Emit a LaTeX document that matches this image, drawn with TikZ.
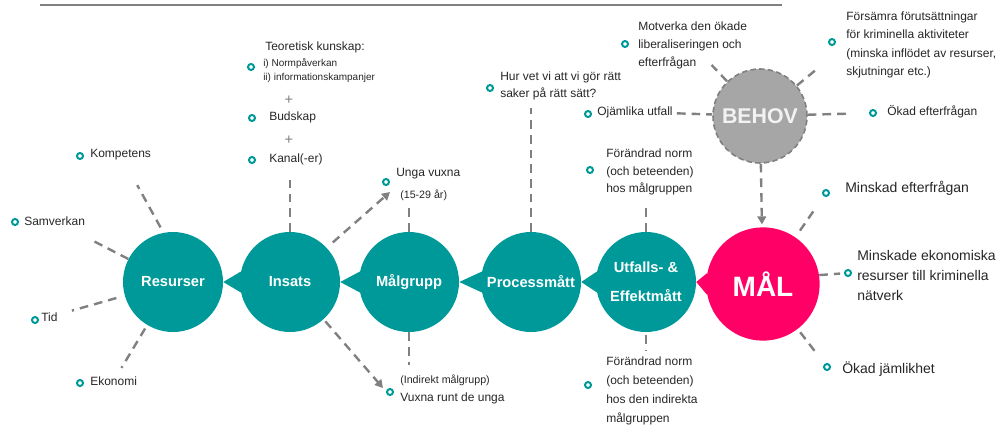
\documentclass[tikz,border=0pt]{standalone}
\usepackage{fontspec}
\setmainfont{Liberation Sans}
\usetikzlibrary{arrows.meta}

\definecolor{turkos}{RGB}{0,153,153}
\definecolor{rosa}{RGB}{255,0,102}
\definecolor{gra}{RGB}{166,166,166}
\definecolor{linje}{RGB}{128,128,128}
\definecolor{ljus}{RGB}{242,242,242}

\tikzset{
  steg/.style={circle, fill=turkos, minimum size=75pt, inner sep=0pt,
    text=white, align=center, font=\bfseries\fontsize{11}{13}\selectfont},
  streck/.style={draw=linje, line width=1.8pt, dash pattern=on 6.5pt off 4.5pt},
  pil/.style={streck, -{Triangle[length=6pt,width=6.5pt]}},
  prick/.style={circle, draw=turkos, fill=white, line width=1.5pt,
    minimum size=4.5pt, inner sep=0pt},
  txt/.style={anchor=west, inner sep=0pt, align=left, text=black!85,
    font=\fontsize{9}{13.5}\selectfont},
  liten/.style={txt, font=\fontsize{7.5}{10.5}\selectfont},
  stor/.style={txt, font=\fontsize{10.5}{15}\selectfont},
  plus/.style={text=linje, font=\fontsize{11}{12}\selectfont, inner sep=0pt},
}

\begin{document}
\begin{tikzpicture}[x=0.75pt, y=-0.75pt]
  \useasboundingbox (0,0) rectangle (1002,428);
  \draw[linje, line width=1pt] (40,5) -- (782,5);

  % kedjan
  \node[steg] (resurser) at (173,282) {Resurser};
  \node[steg] (insats)   at (290,282) {Insats};
  \node[steg] (malgrupp) at (409,282) {Målgrupp};
  \node[steg] (process)  at (531,282) {Processmått};
  \node[steg, font=\bfseries\fontsize{11}{22}\selectfont] (utfall) at (646,282) {Utfalls- \&\\Effektmått};
  \node[steg, fill=rosa, minimum size=85pt, font=\bfseries\fontsize{21}{24}\selectfont] (mal) at (763,284) {MÅL};
  \node[circle, fill=gra, draw=linje, line width=1.2pt, dash pattern=on 4pt off 2.5pt,
    minimum size=70.5pt, inner sep=0pt, text=ljus, font=\bfseries\fontsize{16}{18}\selectfont]
    (behov) at (760,116) {BEHOV};

  \fill[turkos] (resurser.east) -- (insats.168) -- (insats.192) -- cycle;
  \fill[turkos] (insats.east) -- (malgrupp.168) -- (malgrupp.192) -- cycle;
  \fill[turkos] (malgrupp.east) -- (process.168) -- (process.192) -- cycle;
  \fill[turkos] (process.east) -- (utfall.168) -- (utfall.192) -- cycle;
  \fill[rosa] (utfall.east) -- (mal.169) -- (mal.191) -- cycle;

  % resurser
  \node[txt] (kompetens) at (90,155) {Kompetens};
  \node[txt] (samverkan) at (24,221) {Samverkan};
  \node[txt] (tid) at (41,317) {Tid};
  \node[txt] (ekonomi) at (90,381) {Ekonomi};
  \node[prick] (b-kompetens) at (80,156) {};
  \node[prick] (b-samverkan) at (15,222) {};
  \node[prick] (b-tid) at (35,320) {};
  \node[prick] (b-ekonomi) at (80,383) {};
  \draw[streck, shorten <=4.5pt, shorten >=21pt] (resurser.101) -- (kompetens);
  \draw[streck, shorten >=24pt] (resurser) -- (samverkan);
  \draw[streck, shorten <=6.4pt, shorten >=11pt] (resurser) -- (tid);
  \draw[streck, shorten <=3pt, shorten >=7.4pt] (resurser) -- (ekonomi);

  % insats
  \node[txt] (teori) at (265,47) {Teoretisk kunskap:};
  \node[liten] (normer) at (263,71) {i) Normpåverkan\\ii) informationskampanjer};
  \node[prick] (b-teori) at (251,67) {};
  \node[plus] (plus1) at (289,100) {+};
  \node[txt] (budskap) at (269,117) {Budskap};
  \node[prick] (b-budskap) at (252,118) {};
  \node[plus] (plus2) at (289,140) {+};
  \node[txt] (kanal) at (269,159) {Kanal(-er)};
  \node[prick] (b-kanal) at (252,160) {};
  \draw[streck, shorten >=11pt] (insats.north) -- (insats.north |- kanal.south);

  % malgrupp
  \node[txt] (unga) at (396,174) {Unga vuxna};
  \node[txt, font=\fontsize{8}{10}\selectfont] (alder) at (400,195) {(15-29 år)};
  \node[prick] (b-unga) at (386,182) {};
  \node[txt, font=\fontsize{8}{10}\selectfont] (indirekt) at (400,380) {(Indirekt målgrupp)};
  \node[txt] (vuxna) at (400,398) {Vuxna runt de unga};
  \node[prick] (b-vuxna) at (390,392) {};
  \coordinate (uv-spets) at (390,192);
  \coordinate (vr-spets) at (383,388);
  \draw[pil, shorten <=6pt] (insats.43) -- (uv-spets);
  \draw[pil, shorten <=2pt] (insats.-48) -- (vr-spets);
  \draw[streck, shorten >=3pt] (malgrupp.north) -- (malgrupp.north |- alder.south);
  \draw[streck, shorten >=7pt] (malgrupp.south) -- (malgrupp.south |- indirekt.north);

  % processmatt
  \node[txt, font=\fontsize{9}{12.75}\selectfont] (hurvet) at (500,86) {Hur vet vi att vi gör rätt\\saker på rätt sätt?};
  \node[prick] (b-hurvet) at (490,88) {};
  \draw[streck, shorten >=6pt] (process.north) -- (process.north |- hurvet.south);

  % utfalls- och effektmatt
  \node[txt, font=\fontsize{9}{13}\selectfont] (norm1) at (606,172) {Förändrad norm\\(och beteenden)\\hos målgruppen};
  \node[prick] (b-norm1) at (590,170) {};
  \node[txt, font=\fontsize{9}{14.25}\selectfont] (norm2) at (606,391) {Förändrad norm\\(och beteenden)\\hos den indirekta\\målgruppen};
  \node[prick] (b-norm2) at (588,385) {};
  \draw[streck, shorten >=7.5pt] (utfall.north) -- (utfall.north |- norm1.south);
  \draw[streck, shorten <=2pt, shorten >=4pt] (utfall.south) -- (utfall.south |- norm2.north);

  % behov
  \node[txt] (motverka) at (638,45) {Motverka den ökade\\liberaliseringen och\\efterfrågan};
  \node[prick] (b-motverka) at (625,44) {};
  \node[txt, font=\fontsize{9}{13.7}\selectfont] (forsamra) at (846,45) {Försämra förutsättningar\\för kriminella aktiviteter\\(minska inflödet av resurser,\\skjutningar etc.)};
  \node[prick] (b-forsamra) at (832,42) {};
  \node[txt] (ojamlika) at (597,112) {Ojämlika utfall};
  \node[prick] (b-ojamlika) at (588,114) {};
  \node[txt] (okadeft) at (887,112) {Ökad efterfrågan};
  \node[prick] (b-okadeft) at (873,113) {};
  \draw[streck, shorten >=-4pt] (behov) -- (motverka);
  \draw[streck, shorten >=28.5pt] (behov) -- (forsamra.west);
  \draw[streck, shorten <=3pt] (ojamlika) -- (behov);
  \draw[streck, shorten >=14pt] (behov) -- (b-okadeft);
  \draw[pil, shorten >=2pt] (behov) -- (mal);

  % mal
  \node[stor] (minskad) at (845,188) {Minskad efterfrågan};
  \node[prick] (b-minskad) at (826,193) {};
  \node[stor] (ekon) at (857,275) {Minskade ekonomiska\\resurser till kriminella\\nätverk};
  \node[prick] (b-ekon) at (848,273) {};
  \node[stor] (jamlikhet) at (842,369) {Ökad jämlikhet};
  \node[prick] (b-jamlikhet) at (827,367) {};
  \draw[streck, shorten <=6pt, shorten >=10pt] (mal) -- (b-minskad);
  \draw[streck, shorten >=3pt] (mal.9) -- (b-ekon);
  \draw[streck, shorten <=3pt, shorten >=9pt] (mal) -- (b-jamlikhet);
\end{tikzpicture}
\end{document}
